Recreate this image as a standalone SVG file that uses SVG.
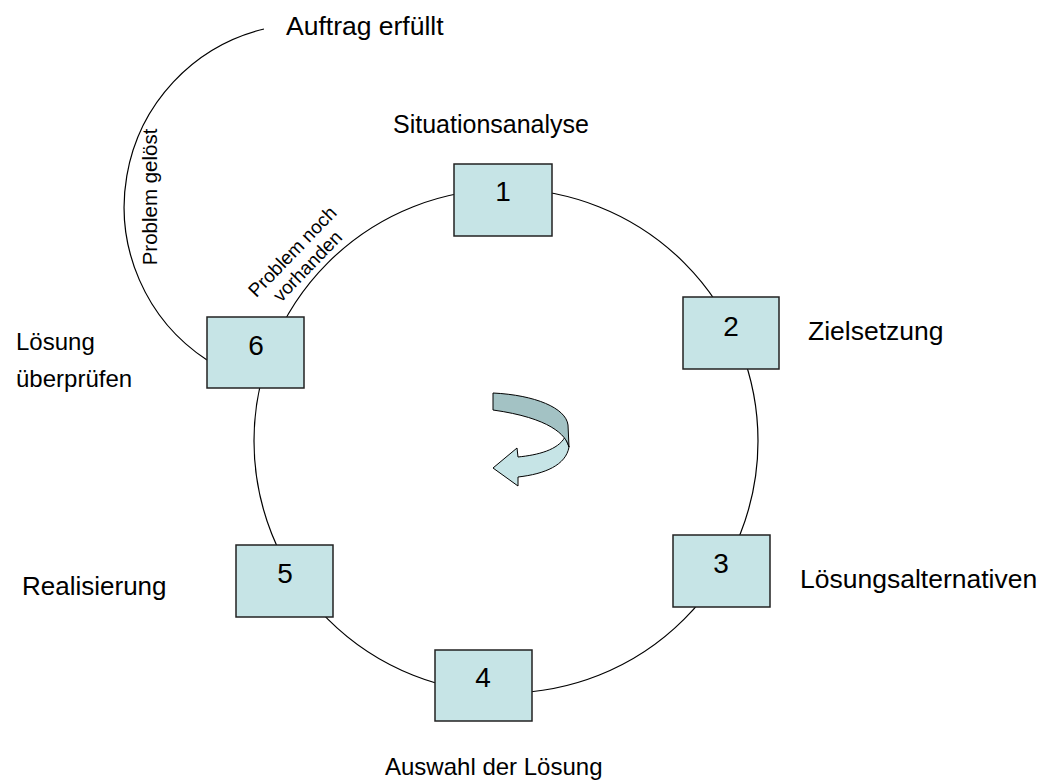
<svg xmlns="http://www.w3.org/2000/svg" width="1042" height="780" viewBox="0 0 1042 780">
<style>
.lbl{font-family:"Liberation Sans",Arial,sans-serif;font-size:24px;fill:#000}
.num{font-family:"Liberation Sans",Arial,sans-serif;font-size:28px;fill:#000;text-anchor:middle}
.small{font-family:"Liberation Sans",Arial,sans-serif;font-size:19px;fill:#000;text-anchor:middle}
.box{fill:#c6e4e6;stroke:#222;stroke-width:1.5}
.ln{fill:none;stroke:#000;stroke-width:1.2}
</style>
<rect width="1042" height="780" fill="#fff"/>
<g id="connectors">
<circle class="ln" cx="506" cy="441" r="252"/>
<path class="ln" d="M264,29 A183,183 0 0 0 207,360"/>
</g>
<g id="arrow">
<path d="M569,447 C566,465 545,474 518,477 L518,486 L493,468 L517,448 L518,457 C538,455 558,450 565,437 Z" fill="#c6e4e6" stroke="#000" stroke-width="1"/>
<path d="M493,393 C535,395 566,408 568,425 L569,447 C566,435 550,418 493,410 Z" fill="#a3c2c4" stroke="#000" stroke-width="1"/>
</g>
<g id="n1"><rect class="box" x="454" y="164" width="98" height="72"/><text class="num" x="503" y="201">1</text></g>
<g id="n2"><rect class="box" x="683" y="297" width="96" height="72"/><text class="num" x="731" y="336">2</text></g>
<g id="n3"><rect class="box" x="673" y="535" width="97" height="72"/><text class="num" x="721" y="573">3</text></g>
<g id="n4"><rect class="box" x="435" y="650" width="97" height="71"/><text class="num" x="483" y="687">4</text></g>
<g id="n5"><rect class="box" x="236" y="545" width="97" height="72"/><text class="num" x="285" y="583">5</text></g>
<g id="n6"><rect class="box" x="207" y="317" width="97" height="71"/><text class="num" x="256" y="355">6</text></g>
<g id="labels">
<text class="lbl" x="286" y="35" style="font-size:26.5px">Auftrag erfüllt</text>
<text class="lbl" x="393" y="133" style="font-size:25px">Situationsanalyse</text>
<text class="lbl" x="808" y="340" style="font-size:26.5px">Zielsetzung</text>
<text class="lbl" x="16" y="350">Lösung</text>
<text class="lbl" x="16" y="387">überprüfen</text>
<text class="lbl" x="800" y="588" style="font-size:26.5px">Lösungsalternativen</text>
<text class="lbl" x="22" y="595" style="font-size:26px">Realisierung</text>
<text class="lbl" x="385" y="775">Auswahl der Lösung</text>
<text class="small" style="font-size:20.5px" transform="translate(157,197) rotate(-90)">Problem gelöst</text>
<g transform="translate(297,256) rotate(-46)">
<text class="small" x="0" y="0">Problem noch</text>
<text class="small" x="0" y="21">vorhanden</text>
</g>
</g>
</svg>
